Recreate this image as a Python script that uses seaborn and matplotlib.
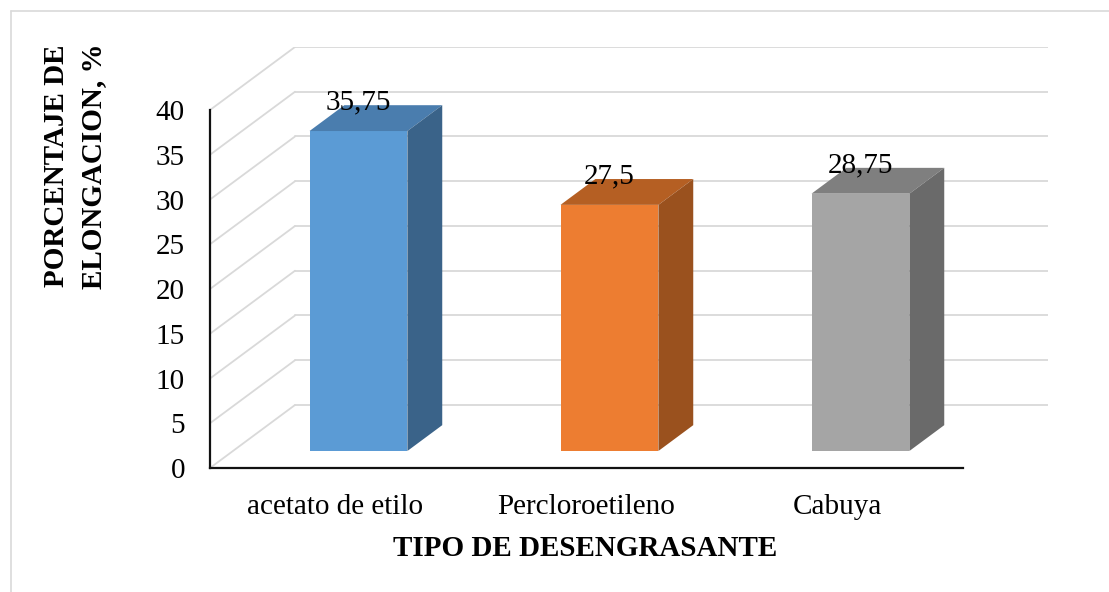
import numpy as np
import matplotlib
matplotlib.use("Agg")
import matplotlib.pyplot as plt
from matplotlib.patches import Polygon
from matplotlib.lines import Line2D
import seaborn as sns

# ==================== Data ====================
categories = ["acetato de etilo", "Percloroetileno", "Cabuya"]
values = [35.75, 27.5, 28.75]
front_colors = ["#5B9BD5", "#ED7D31", "#A5A5A5"]
top_colors = ["#4A7DAE", "#B55F23", "#7F7F7F"]
side_colors = ["#3A6389", "#9A511E", "#6A6A6A"]
y_ticks = [0, 5, 10, 15, 20, 25, 30, 35, 40]

# ==================== Style ====================
sns.set_style("white")
plt.rcParams.update({
    "font.family": ["Liberation Serif", "DejaVu Serif"],
    "font.size": 21,
    "text.color": "black", "axes.labelcolor": "black",
    "xtick.color": "black", "ytick.color": "black",
})

GRID = "#D9D9D9"
# depth of the 3D box in data units (x: category units, y: value units)
DX, DY = 0.3386, 7.04
F0, F1 = 0.27, 0.68    # front / back of the bars as fraction of the depth
BAR_W = 0.39

W, H = 1109, 592
fig = plt.figure(figsize=(W / 100, H / 100), dpi=100)
ax = fig.add_axes([210 / W, (H - 468) / H, 838 / W, 421 / H])

# walls: back gridlines + side wall diagonals
for v in y_ticks:
    ax.plot([-0.5 + DX, 2.5 + DX], [v + DY, v + DY], color=GRID, lw=1.3, zorder=0)
    ax.plot([-0.5, -0.5 + DX], [v, v + DY], color=GRID, lw=1.3, zorder=0)

# front faces through seaborn
sns.barplot(x=categories, y=values, hue=categories, palette=front_colors,
            width=BAR_W, legend=False, saturation=1, ax=ax, zorder=2)

fx, fy = F0 * DX, F0 * DY
sdx, sdy = (F1 - F0) * DX, (F1 - F0) * DY
for i, p in enumerate(ax.patches[:len(values)]):
    p.set_x(p.get_x() + fx)
    p.set_y(fy)
    p.set_edgecolor("none")
    x0, x1 = p.get_x(), p.get_x() + p.get_width()
    top = fy + p.get_height()
    ax.add_patch(Polygon([(x0, top), (x1, top), (x1 + sdx, top + sdy), (x0 + sdx, top + sdy)],
                         closed=True, facecolor=top_colors[i], edgecolor="none", zorder=2))
    ax.add_patch(Polygon([(x1, fy), (x1 + sdx, fy + sdy), (x1 + sdx, top + sdy), (x1, top)],
                         closed=True, facecolor=side_colors[i], edgecolor="none", zorder=2))
    lbl = f"{values[i]:g}".replace(".", ",")
    ax.text((x0 + x1) / 2, values[i] + 5.1, lbl, ha="center", va="center",
            fontsize=21, color="black", zorder=3)

ax.set_xlim(-0.5, 2.5 + DX)
ax.set_ylim(0, 40 + DY)
ax.set_yticks(y_ticks)
ax.set_yticklabels([str(t) for t in y_ticks])
ax.tick_params(axis="both", length=0, labelsize=21, colors="black")
ax.tick_params(axis="y", pad=18)
ax.tick_params(axis="x", pad=19)

for s in ["top", "right"]:
    ax.spines[s].set_visible(False)
for s in ["left", "bottom"]:
    ax.spines[s].set_color("#111111")
    ax.spines[s].set_linewidth(1.6)
ax.spines["left"].set_bounds(0, 40)
ax.spines["bottom"].set_bounds(-0.5, 2.5)

ax.set_xlabel("TIPO DE DESENGRASANTE", fontsize=21, fontweight="bold", va="center")
ax.xaxis.set_label_coords((585 - 210) / 838, (468 - 548) / 421)
ax.set_ylabel("PORCENTAJE DE\nELONGACION, %", fontsize=21, fontweight="bold",
              va="center", ha="center", multialignment="center", linespacing=1.45)
ax.yaxis.set_label_coords((75 - 210) / 838, (468 - 166) / 421)

# chart area border (top and left edges visible)
fig.add_artist(Line2D([11 / W, 11 / W], [0, 1 - 11 / H], color=GRID, lw=1.2))
fig.add_artist(Line2D([11 / W, 1], [1 - 11 / H, 1 - 11 / H], color=GRID, lw=1.2))

fig.savefig("out.png", dpi=100)
